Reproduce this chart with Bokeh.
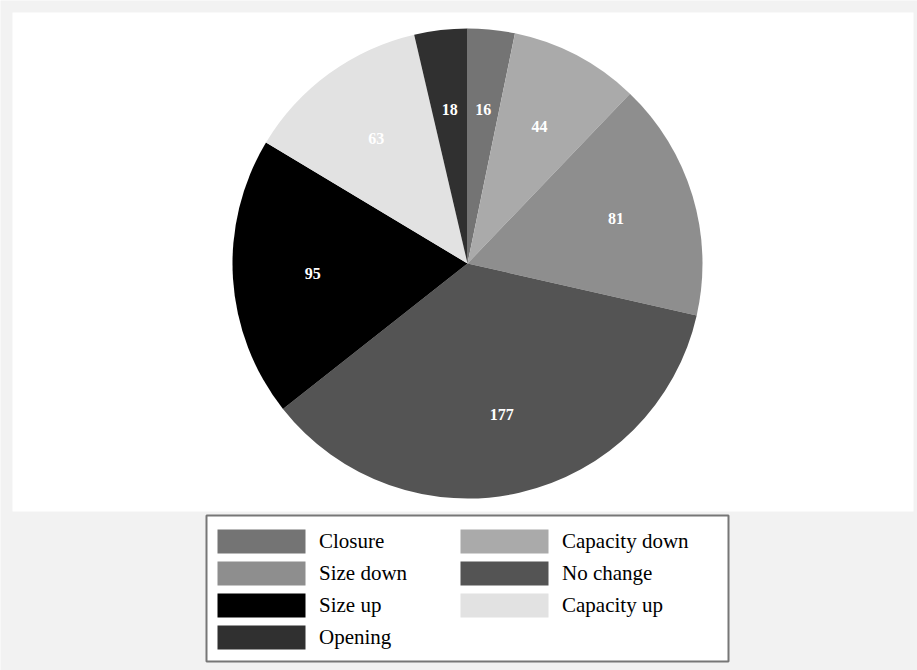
import numpy as np
from bokeh.plotting import figure
from bokeh.models import ColumnDataSource, Range1d, Legend, LegendItem
from bokeh.core.properties import value
from bokeh.embed import file_html
from bokeh.resources import INLINE

# ---- data ----
categories = ["Closure", "Capacity down", "Size down", "No change", "Size up", "Capacity up", "Opening"]
counts = [16, 44, 81, 177, 95, 63, 18]
colors = ["#747474", "#aaaaaa", "#8e8e8e", "#545454", "#000000", "#e2e2e2", "#303030"]

# ---- layout (pixels) ----
W, H = 917, 670
CX, CY, R = 467, 263, 235      # pie centre / radius (pixel coords, y down)
LABEL_R = 155

total = sum(counts)
cum = np.cumsum([0] + counts)
start_frac = cum[:-1] / total
end_frac = cum[1:] / total
start_angle = np.pi / 2 - 2 * np.pi * end_frac
end_angle = np.pi / 2 - 2 * np.pi * start_frac
mid = (start_angle + end_angle) / 2

src = ColumnDataSource(dict(
    cat=categories, count=counts, color=colors,
    start=start_angle, end=end_angle,
    lx=CX + LABEL_R * np.cos(mid),
    ly=(H - CY) + LABEL_R * np.sin(mid),
    txt=[str(c) for c in counts],
))

p = figure(width=W, height=H, x_range=Range1d(0, W), y_range=Range1d(0, H),
           x_axis_type=None, y_axis_type=None, min_border=0,
           toolbar_location=None, output_backend="svg")
p.background_fill_color = "#f2f2f2"
p.border_fill_color = "#f2f2f2"
p.outline_line_color = None
p.grid.visible = False

# white plot panel
p.quad(left=12, right=913, bottom=H - 511, top=H - 12, fill_color="white", line_color=None)

# pie
wedges = p.wedge(x=CX, y=H - CY, radius=R, start_angle="start", end_angle="end",
                 direction="anticlock", fill_color="color", line_color=None, source=src)

p.text(x="lx", y="ly", text="txt", source=src, text_color="white",
       text_font=value("Liberation Serif"), text_font_style="bold",
       text_font_size="16px", text_align="center", text_baseline="middle")

# legend frame
p.quad(left=206, right=728, bottom=H - 661, top=H - 515, fill_color="white",
       line_color="#777777", line_width=2)

items = [LegendItem(label=c, renderers=[wedges], index=i) for i, c in enumerate(categories)]
legend = Legend(items=items, location=(206, H - 652), orientation="horizontal", ncols=2,
                glyph_width=110, glyph_height=30, label_height=30, label_standoff=3,
                spacing=2, padding=0, margin=0, label_width=128,
                border_line_alpha=0, background_fill_alpha=0,
                label_text_font="Liberation Serif", label_text_font_size="21px",
                label_text_color="black")
p.add_layout(legend)

open("out.html", "w").write(file_html(p, INLINE))
